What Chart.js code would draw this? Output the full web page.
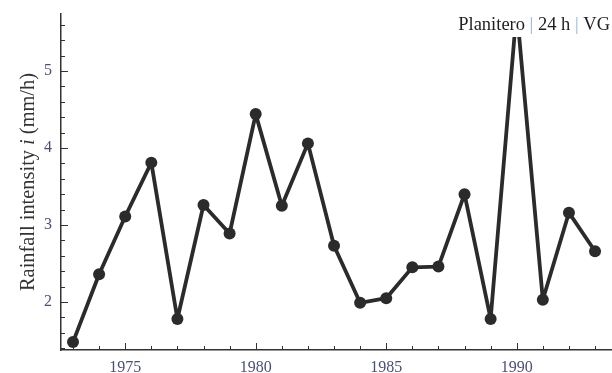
<!DOCTYPE html>
<html>
<head>
<meta charset="utf-8">
<script src="https://cdn.jsdelivr.net/npm/chart.js@4.4.1/dist/chart.umd.min.js"></script>
<style>
  html, body { margin: 0; padding: 0; background: #fff; }
  #wrap { width: 612px; height: 373px; position: relative; }
</style>
</head>
<body>
<div id="wrap"><canvas id="c" width="612" height="373"></canvas></div>
<script>
// ---- data ----
const years = [1973, 1974, 1975, 1976, 1977, 1978, 1979, 1980, 1981, 1982, 1983,
               1984, 1985, 1986, 1987, 1988, 1989, 1990, 1991, 1992, 1993];
const intensity = [1.48, 2.36, 3.11, 3.81, 1.78, 3.26, 2.89, 4.44, 3.25, 4.06, 2.73,
                   1.99, 2.05, 2.45, 2.46, 3.40, 1.78, 5.80, 2.03, 3.16, 2.66];
const xMajorTicks = [1975, 1980, 1985, 1990];
const xMinorTicks = [1973, 1974, 1976, 1977, 1978, 1979, 1981, 1982, 1983, 1984,
                     1986, 1987, 1988, 1989, 1991, 1992, 1993];
const yMajorTicks = [2, 3, 4, 5];
const yMinorTicks = [1.4, 1.6, 1.8, 2.2, 2.4, 2.6, 2.8, 3.2, 3.4, 3.6, 3.8,
                     4.2, 4.4, 4.6, 4.8, 5.2, 5.4, 5.6];
const titleParts = ["Planitero ", "|", " 24 h ", "|", " VG"];
const yTitleParts = ["Rainfall intensity ", "i", " (mm/h)"];

const AXIS = '#333333';
const LABEL = '#4b4f78';
const SERIF = '"Liberation Serif", "Times New Roman", serif';

const decor = {
  id: 'decor',
  afterDatasetsDraw(chart) {
    const ctx = chart.ctx;
    const xs = chart.scales.x, ys = chart.scales.y;
    const a = chart.chartArea;
    ctx.save();
    ctx.strokeStyle = AXIS;
    ctx.lineWidth = 1;
    // x ticks, pointing inward
    const drawX = (v, len) => {
      const px = Math.round(xs.getPixelForValue(v)) + 0.5;
      ctx.beginPath(); ctx.moveTo(px, a.bottom); ctx.lineTo(px, a.bottom - len); ctx.stroke();
    };
    xMajorTicks.forEach(v => drawX(v, 7));
    xMinorTicks.forEach(v => drawX(v, 4));
    const drawY = (v, len) => {
      const py = Math.round(ys.getPixelForValue(v)) + 0.5;
      ctx.beginPath(); ctx.moveTo(a.left, py); ctx.lineTo(a.left + len, py); ctx.stroke();
    };
    yMajorTicks.forEach(v => drawY(v, 7));
    yMinorTicks.forEach(v => drawY(v, 4));

    // top-right title
    ctx.font = '18.5px ' + SERIF;
    ctx.textBaseline = 'alphabetic';
    let total = 0;
    titleParts.forEach(t => total += ctx.measureText(t).width);
    let x = 610 - total;
    titleParts.forEach(t => {
      ctx.fillStyle = (t === '|') ? '#8fb2da' : '#1e1e1e';
      ctx.fillText(t, x, 30);
      x += ctx.measureText(t).width;
    });

    // y-axis title (rotated, with italic i)
    ctx.translate(34, (a.top + a.bottom) / 2);
    ctx.rotate(-Math.PI / 2);
    const fonts = ['20.4px ' + SERIF, 'italic 20.4px ' + SERIF, '20.4px ' + SERIF];
    let w = 0;
    yTitleParts.forEach((t, i) => { ctx.font = fonts[i]; w += ctx.measureText(t).width; });
    let tx = -w / 2;
    ctx.fillStyle = '#333333';
    yTitleParts.forEach((t, i) => {
      ctx.font = fonts[i];
      ctx.fillText(t, tx, 0);
      tx += ctx.measureText(t).width;
    });
    ctx.restore();
  }
};

new Chart(document.getElementById('c'), {
  type: 'line',
  data: {
    datasets: [{
      data: years.map((y, i) => ({ x: y, y: intensity[i] })),
      borderColor: '#2b2b2b',
      backgroundColor: '#2b2b2b',
      borderWidth: 3.8,
      borderJoinStyle: 'round',
      borderCapStyle: 'round',
      pointRadius: 6,
      pointBorderWidth: 0,
      pointBackgroundColor: '#2b2b2b',
      tension: 0,
      clip: { left: 10, top: -23, right: 10, bottom: 10 }
    }]
  },
  options: {
    responsive: false,
    animation: false,
    events: [],
    layout: { autoPadding: false, padding: { top: 14, right: 0, left: 0, bottom: 0 } },
    plugins: { legend: { display: false }, tooltip: { enabled: false }, title: { display: false } },
    scales: {
      x: {
        type: 'linear',
        min: 1972.54,
        max: 1993.65,
        afterBuildTicks: s => { s.ticks = xMajorTicks.map(v => ({ value: v })); },
        afterFit: s => { s.height = 23; s.paddingLeft = 0; s.paddingRight = 0; },
        grid: { display: false, drawTicks: false },
        border: { display: true, color: AXIS, width: 1.5 },
        ticks: {
          callback: v => String(v),
          color: LABEL,
          font: { family: SERIF, size: 16 },
          padding: 8,
          maxRotation: 0,
          autoSkip: false
        }
      },
      y: {
        type: 'linear',
        min: 1.377,
        max: 5.74,
        afterBuildTicks: s => { s.ticks = yMajorTicks.map(v => ({ value: v })); },
        afterFit: s => { s.width = 61; s.paddingTop = 0; s.paddingBottom = 0; },
        grid: { display: false, drawTicks: false },
        border: { display: true, color: AXIS, width: 1.5 },
        ticks: {
          callback: v => String(v),
          color: LABEL,
          font: { family: SERIF, size: 16 },
          padding: 9
        }
      }
    }
  },
  plugins: [decor]
});
</script>
</body>
</html>
